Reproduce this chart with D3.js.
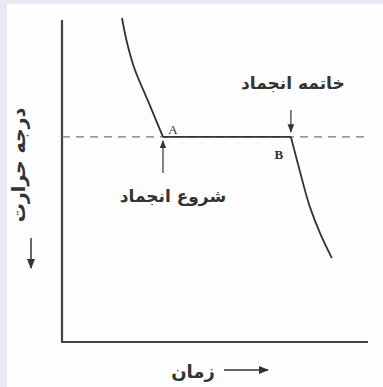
<!DOCTYPE html>
<html lang="fa">
<head>
<meta charset="UTF-8">
<title>منحنی سرد شدن</title>
<style>
  body { margin: 0; background: #e9e9f5; }
  svg { display: block; }
  .lbl { font-family: "DejaVu Sans", "Noto Sans", sans-serif; font-weight: bold; fill: #333; }
</style>
</head>
<body>
<svg width="383" height="387"></svg>
<script src="https://d3js.org/d3.v7.min.js"></script>
<script>
// cooling curve (time, temperature in arbitrary units)
var liquidTime = [1.96, 2.12, 2.35, 2.81, 3.30];
var liquidTemp = [10.0, 9.26, 8.49, 7.44, 6.33];
var plateauTime = [3.30, 7.48];
var freezeTemp = 6.33;
var solidTime = [7.48, 7.78, 8.10, 8.46, 8.82];
var solidTemp = [6.33, 5.25, 4.17, 3.30, 2.59];

var pointNames = ["A", "B"];
var startLabel = "شروع انجماد";
var endLabel = "خاتمه انجماد";
var yTitle = "درجه حرارت";
var xTitle = "زمان";

var svg = d3.select("svg");
svg.append("rect").attr("x", 7).attr("y", 4).attr("width", 376).attr("height", 383).attr("fill", "#fdfdfd");

var defs = svg.append("defs");
defs.append("marker").attr("id", "head")
    .attr("viewBox", "0 0 10 10").attr("refX", 9).attr("refY", 5)
    .attr("markerWidth", 7).attr("markerHeight", 7).attr("orient", "auto")
  .append("path").attr("d", "M0,1L10,5L0,9z").attr("fill", "#333");

var x = d3.scaleLinear().domain([0, 10]).range([62, 368]);
var y = d3.scaleLinear().domain([0, 10]).range([342, 18]);

// axes
svg.append("line").attr("x1", x(0)).attr("x2", x(0)).attr("y1", 20).attr("y2", y(0))
    .attr("stroke", "#444").attr("stroke-width", 2.2);
svg.append("line").attr("x1", x(0) - 1).attr("x2", x(10)).attr("y1", y(0)).attr("y2", y(0))
    .attr("stroke", "#444").attr("stroke-width", 2.2);

// freezing level
svg.append("line").attr("x1", x(0)).attr("x2", 370).attr("y1", y(freezeTemp)).attr("y2", y(freezeTemp))
    .attr("stroke", "#777").attr("stroke-width", 1.3).attr("stroke-dasharray", "8,6");

var curve = d3.line().x(function(d) { return x(d[0]); }).y(function(d) { return y(d[1]); });
var pieces = [
  { pts: d3.zip(liquidTime, liquidTemp), c: d3.curveMonotoneY },
  { pts: plateauTime.map(function(t) { return [t, freezeTemp]; }), c: d3.curveLinear },
  { pts: d3.zip(solidTime, solidTemp), c: d3.curveMonotoneY }
];
svg.selectAll(".piece").data(pieces).enter().append("path")
    .attr("class", "piece")
    .attr("d", function(d) { return curve.curve(d.c)(d.pts); })
    .attr("fill", "none").attr("stroke", "#333").attr("stroke-width", 1.8);

// A and B
var ax = x(plateauTime[0]), bx = x(plateauTime[1]), fy = y(freezeTemp);
svg.append("text").attr("x", ax + 10).attr("y", fy - 3).attr("text-anchor", "middle")
    .attr("font-family", "Liberation Serif, serif").attr("font-size", 13).attr("fill", "#333")
    .text(pointNames[0]);
svg.append("text").attr("x", bx - 12).attr("y", fy + 22).attr("text-anchor", "middle")
    .attr("font-family", "Liberation Serif, serif").attr("font-weight", "bold").attr("font-size", 13).attr("fill", "#333")
    .text(pointNames[1]);

// arrows to A and B
svg.append("line").attr("x1", ax).attr("x2", ax).attr("y1", fy + 36).attr("y2", fy + 4)
    .attr("stroke", "#333").attr("stroke-width", 1.2).attr("marker-end", "url(#head)");
svg.append("line").attr("x1", bx).attr("x2", bx).attr("y1", fy - 27).attr("y2", fy - 5)
    .attr("stroke", "#333").attr("stroke-width", 1.2).attr("marker-end", "url(#head)");

svg.append("text").attr("class", "lbl").attr("x", ax + 10).attr("y", fy + 65)
    .attr("text-anchor", "middle").attr("font-size", 17).text(startLabel);
svg.append("text").attr("class", "lbl").attr("x", bx + 2).attr("y", fy - 48)
    .attr("text-anchor", "middle").attr("font-size", 17).text(endLabel);

// axis titles
svg.append("text").attr("class", "lbl").attr("transform", "translate(25,165) rotate(-90)")
    .attr("text-anchor", "middle").attr("font-size", 19).text(yTitle);
svg.append("line").attr("x1", 31).attr("x2", 31).attr("y1", 238).attr("y2", 268)
    .attr("stroke", "#333").attr("stroke-width", 1.5).attr("marker-end", "url(#head)");

svg.append("text").attr("class", "lbl").attr("x", 193).attr("y", 378)
    .attr("text-anchor", "middle").attr("font-size", 18).text(xTitle);
svg.append("line").attr("x1", 224).attr("x2", 268).attr("y1", 370).attr("y2", 370)
    .attr("stroke", "#333").attr("stroke-width", 1.5).attr("marker-end", "url(#head)");
</script>
</body>
</html>
